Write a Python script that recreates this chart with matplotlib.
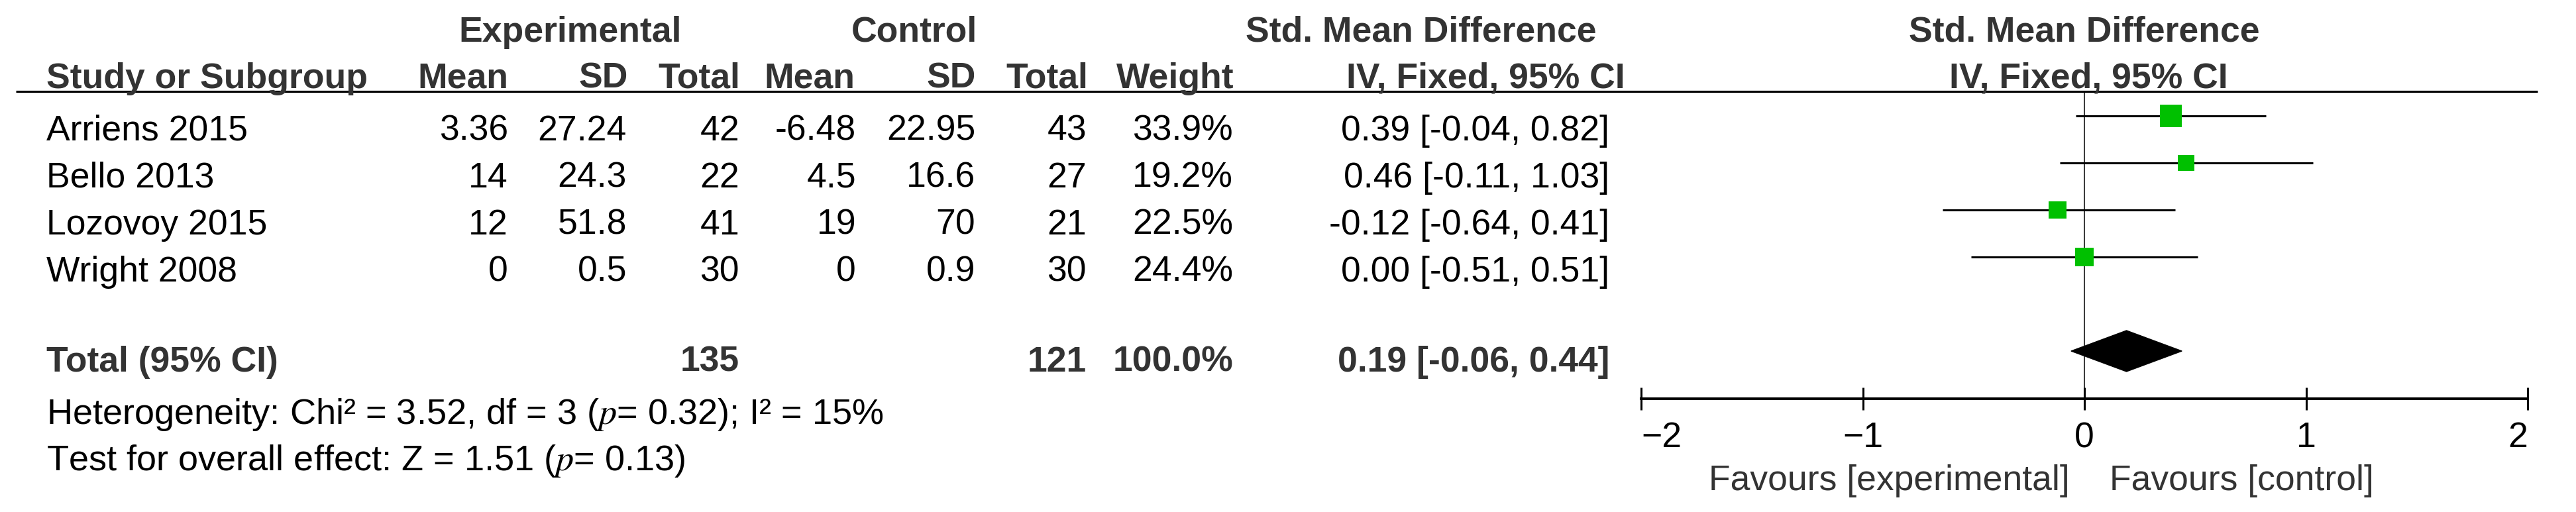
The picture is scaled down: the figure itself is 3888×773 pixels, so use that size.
import numpy as np
import matplotlib
matplotlib.use('Agg')
import matplotlib.pyplot as plt

plt.rcParams['font.family'] = ['Liberation Sans', 'DejaVu Sans']
plt.rcParams['mathtext.fontset'] = 'stix'

# --- dados do forest plot ---
estudos = ['Arriens 2015', 'Bello 2013', 'Lozovoy 2015', 'Wright 2008']
exp_media = [3.36, 14, 12, 0]
exp_dp = [27.24, 24.3, 51.8, 0.5]
exp_n = [42, 22, 41, 30]
ctl_media = [-6.48, 4.5, 19, 0]
ctl_dp = [22.95, 16.6, 70, 0.9]
ctl_n = [43, 27, 21, 30]
pesos = [33.9, 19.2, 22.5, 24.4]
smd = [0.39, 0.46, -0.12, 0.00]
ic_inf = [-0.04, -0.11, -0.64, -0.51]
ic_sup = [0.82, 1.03, 0.41, 0.51]

total_exp = 135
total_ctl = 121
peso_total = 100.0
smd_total = 0.19
ic_total = [-0.06, 0.44]
heterog = "Heterogeneity: Chi² = 3.52, df = 3 ($p$= 0.32); I² = 15%"
efeito = "Test for overall effect: Z = 1.51 ($p$= 0.13)"
marcas = [-2, -1, 0, 1, 2]

# --- layout ---
W, H = 3888, 773
FS = 38.5
CINZA = '#333333'
VERDE = '#00C000'


def linha(px):
    """Converte pixel (a partir do topo) em unidades de linha da tabela."""
    return 1 + (px - 175) / 71


fig = plt.figure(figsize=(W / 100, H / 100), dpi=100)

tab = fig.add_axes([0, 0, 1, 1])
tab.set_xlim(0, W)
tab.set_ylim(linha(H), linha(0))
tab.axis('off')

fp = fig.add_axes([2477 / W, 0, (3815 - 2477) / W, 1])
fp.set_xlim(-2, 2)
fp.set_ylim(linha(H), linha(0))
fp.patch.set_alpha(0)
for lado in ['top', 'left', 'right']:
    fp.spines[lado].set_visible(False)
fp.spines['bottom'].set_position(('data', linha(602)))
fp.spines['bottom'].set_linewidth(2.9)
fp.tick_params(left=False, labelleft=False)
fp.tick_params(axis='x', direction='inout', length=25, width=2.2,
               pad=12, labelsize=FS)
fp.set_xticks(marcas)
rotulos = fp.get_xticklabels()
rotulos[0].set_ha('left')
rotulos[-1].set_ha('right')

# cabeçalhos
cab1 = linha(63)
cab2 = linha(133)
kw_cab = dict(fontsize=FS, fontweight='bold', color=CINZA, va='baseline')
tab.text(692, cab1, 'Experimental', ha='left', **kw_cab)
tab.text(1475, cab1, 'Control', ha='right', **kw_cab)
tab.text(2410, cab1, 'Std. Mean Difference', ha='right', **kw_cab)
fp.text(0, cab1, 'Std. Mean Difference', ha='center', **kw_cab)

colunas = [767, 946, 1116, 1292, 1472, 1640, 1861, 2429]
tab.text(70, cab2, 'Study or Subgroup', ha='left', **kw_cab)
for x, nome in zip([767, 948, 1117, 1290, 1473, 1642, 1862, 2453],
                   ['Mean', 'SD', 'Total', 'Mean', 'SD', 'Total', 'Weight',
                    'IV, Fixed, 95% CI']):
    tab.text(x, cab2, nome, ha='right', **kw_cab)
fp.text(0.02, cab2, 'IV, Fixed, 95% CI', ha='center', **kw_cab)

tab.hlines(linha(138), 24, 3830, color='black', lw=2.3)

# linhas dos estudos
pos = np.arange(1, len(estudos) + 1)
for i, y in enumerate(pos):
    yb = y + 0.52
    tab.text(70, yb, estudos[i], ha='left', va='baseline', fontsize=FS)
    valores = [f'{exp_media[i]:g}', f'{exp_dp[i]:g}', f'{exp_n[i]}',
               f'{ctl_media[i]:g}', f'{ctl_dp[i]:g}', f'{ctl_n[i]}',
               f'{pesos[i]:.1f}%',
               f'{smd[i]:.2f} [{ic_inf[i]:.2f}, {ic_sup[i]:.2f}]']
    for x, v in zip(colunas, valores):
        tab.text(x, yb, v, ha='right', va='baseline', fontsize=FS)

fp.hlines(pos, ic_inf, ic_sup, color='black', lw=2.2, zorder=2)
fp.scatter(smd, pos, marker='s', s=[16.7 * p for p in pesos],
           color=VERDE, linewidths=0, zorder=3)

# total
y_tot = 6
yb = linha(561)
kw_tot = dict(fontsize=FS, fontweight='bold', color=CINZA, va='baseline')
tab.text(70, yb, 'Total (95% CI)', ha='left', **kw_tot)
tab.text(colunas[2], yb, f'{total_exp}', ha='right', **kw_tot)
tab.text(colunas[5], yb, f'{total_ctl}', ha='right', **kw_tot)
tab.text(colunas[6], yb, f'{peso_total:.1f}%', ha='right', **kw_tot)
tab.text(colunas[7], yb,
         f'{smd_total:.2f} [{ic_total[0]:.2f}, {ic_total[1]:.2f}]',
         ha='right', **kw_tot)

meia = 31 / 71
fp.fill([ic_total[0], smd_total, ic_total[1], smd_total],
        [y_tot, y_tot - meia, y_tot, y_tot + meia], color='black', zorder=3)

fp.vlines(0, linha(138), linha(602), color='black', lw=1.1, zorder=1)

tab.text(70, linha(640), heterog, ha='left', va='baseline', fontsize=39)
tab.text(70, linha(710), efeito, ha='left', va='baseline', fontsize=39)

# rótulos "Favours"
fp.text(-0.066, linha(740), 'Favours [experimental]', ha='right',
        va='baseline', fontsize=FS, color=CINZA)
fp.text(0.113, linha(740), 'Favours [control]', ha='left',
        va='baseline', fontsize=FS, color=CINZA)

fig.savefig('out.png', dpi=100)
